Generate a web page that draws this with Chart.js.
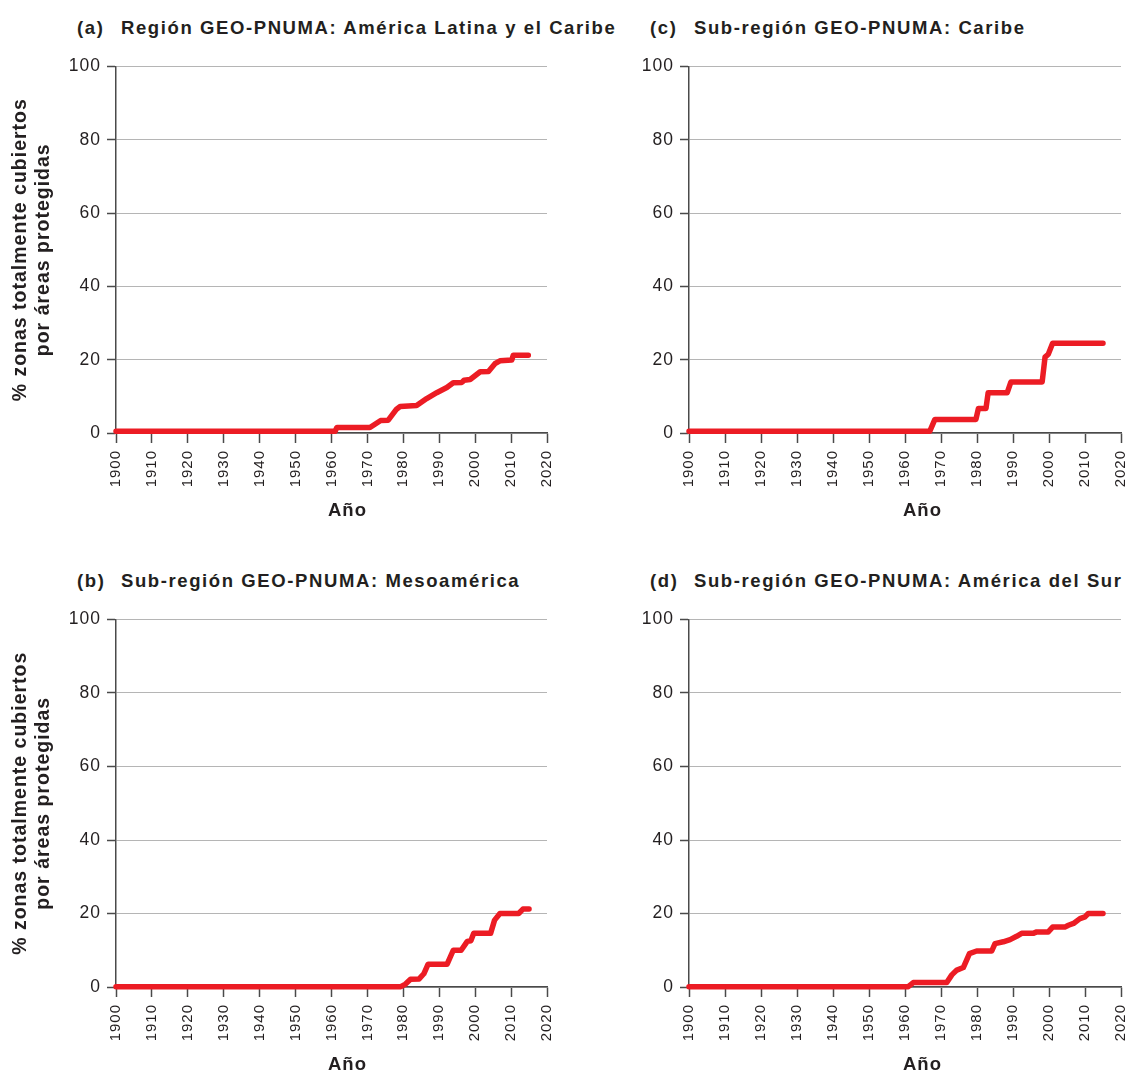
<!DOCTYPE html>
<html lang="es">
<head>
    <meta charset="UTF-8">
    <title>Zonas cubiertas por áreas protegidas</title>
    <script src="https://cdn.jsdelivr.net/npm/chart.js"></script>
    <style>
        body {
            margin: 0;
            width: 1132px;
            height: 1073px;
            overflow: hidden;
            background: #fff;
            font-family: "Liberation Sans", Arial, sans-serif;
            color: #231f20;
        }
        canvas { position: absolute; }

        /* títulos de cada panel */
        .panel-letter, .panel-title {
            position: absolute;
            font-size: 18.5px;
            font-weight: bold;
            letter-spacing: 1.6px;
            line-height: 20px;
            white-space: nowrap;
        }

        /* título del eje x */
        .x-title {
            position: absolute;
            font-size: 18.5px;
            font-weight: bold;
            letter-spacing: 1px;
            line-height: 20px;
        }
    </style>
</head>
<body>
    <div class="panel-letter" style="left:77px; top:18px;">(a)</div>
    <div class="panel-title" style="left:121px; top:18px;">Región GEO-PNUMA: América Latina y el Caribe</div>
    <div class="panel-letter" style="left:650px; top:18px;">(c)</div>
    <div class="panel-title" style="left:694px; top:18px;">Sub-región GEO-PNUMA: Caribe</div>
    <div class="panel-letter" style="left:77px; top:571px;">(b)</div>
    <div class="panel-title" style="left:121px; top:571px;">Sub-región GEO-PNUMA: Mesoamérica</div>
    <div class="panel-letter" style="left:650px; top:571px;">(d)</div>
    <div class="panel-title" style="left:694px; top:571px;">Sub-región GEO-PNUMA: América del Sur</div>

    <canvas id="chartA" width="560" height="480" style="left:0; top:50px;"></canvas>
    <canvas id="chartC" width="552" height="480" style="left:580px; top:50px;"></canvas>
    <canvas id="chartB" width="560" height="470" style="left:0; top:603px;"></canvas>
    <canvas id="chartD" width="552" height="470" style="left:580px; top:603px;"></canvas>

    <div class="x-title" style="left:328px; top:500px;">Año</div>
    <div class="x-title" style="left:903px; top:500px;">Año</div>
    <div class="x-title" style="left:328px; top:1054px;">Año</div>
    <div class="x-title" style="left:903px; top:1054px;">Año</div>

    <script>
        // ticks de los ejes
        const xTickYears = [1900, 1910, 1920, 1930, 1940, 1950, 1960, 1970, 1980, 1990, 2000, 2010, 2020];
        const yTickValues = [0, 20, 40, 60, 80, 100];
        const yTitleLines = ['% zonas totalmente cubiertos', 'por áreas protegidas'];

        // (a) América Latina y el Caribe
        const yearsALC = [1900, 1961, 1961.5, 1970.7, 1972.1, 1973.7, 1975.8, 1978.1, 1979.1, 1983.7, 1986.5, 1989.3,
                          1992.1, 1993.9, 1996.3, 1996.9, 1998.6, 2001.4, 2003.7, 2005.5, 2006.9, 2010.2, 2010.6, 2014.8];
        const valuesALC = [0.5, 0.5, 1.5, 1.5, 2.4, 3.4, 3.5, 6.5, 7.2, 7.5, 9.4, 11.0,
                           12.4, 13.7, 13.8, 14.4, 14.6, 16.7, 16.8, 18.9, 19.7, 19.9, 21.2, 21.2];

        // (b) Mesoamérica
        const yearsMeso = [1900, 1979.3, 1980.6, 1982.0, 1984.4, 1985.7, 1986.9, 1992.2, 1993.9, 1996.1,
                           1997.8, 1998.8, 1999.6, 2004.3, 2005.4, 2006.9, 2012.1, 2013.3, 2015.0];
        const valuesMeso = [0.1, 0.1, 0.8, 2.1, 2.2, 3.6, 6.2, 6.2, 10.0, 10.0,
                            12.4, 12.6, 14.6, 14.6, 18.2, 20.0, 20.0, 21.2, 21.2];

        // (c) Caribe
        const yearsCaribe = [1900, 1966.9, 1968.3, 1979.7, 1980.4, 1982.5, 1983.1, 1988.4, 1989.4, 1998.1, 1998.9, 1999.8, 2001.0, 2015.0];
        const valuesCaribe = [0.5, 0.5, 3.7, 3.7, 6.7, 6.7, 11.0, 11.0, 13.9, 13.9, 20.7, 21.5, 24.5, 24.5];

        // (d) América del Sur
        const yearsSur = [1900, 1960.9, 1962.3, 1971.6, 1973.0, 1974.4, 1976.2, 1977.9, 1979.9, 1984.1, 1985.0, 1987.3, 1989.2,
                          1991.0, 1992.4, 1995.6, 1996.6, 1999.8, 2001.0, 2004.4, 2005.4, 2006.8, 2008.6, 2010.0, 2010.9, 2015.0];
        const valuesSur = [0.1, 0.1, 1.2, 1.2, 3.3, 4.6, 5.3, 9.1, 9.8, 9.8, 11.8, 12.3, 12.9,
                           13.8, 14.6, 14.6, 15.0, 15.0, 16.3, 16.3, 16.8, 17.3, 18.6, 19.1, 20.0, 20.0];

        const RED = '#ec1c24';
        const INK = '#231f20';
        const AXIS = '#4a4a4a';
        const GRID = '#b5b5b5';

        Chart.defaults.font.family = '"Liberation Sans", Arial, sans-serif';
        Chart.defaults.color = INK;

        // el canvas pierde el letterSpacing al redimensionarse, se vuelve a poner
        const letterSpacing = {
            id: 'letterSpacing',
            beforeLayout(chart) { chart.ctx.letterSpacing = '1px'; },
            beforeDraw(chart) { chart.ctx.letterSpacing = '1px'; }
        };

        function makeChart(id, years, values, yAxisWidth, xAxisHeight, padRight, withYTitle) {
            const points = years.map((yr, i) => ({ x: yr, y: values[i] }));
            return new Chart(document.getElementById(id), {
                type: 'line',
                data: {
                    datasets: [{
                        data: points,
                        borderColor: RED,
                        borderWidth: 5.5,
                        borderCapStyle: 'round',
                        borderJoinStyle: 'round',
                        pointRadius: 0,
                        tension: 0,
                        clip: 6
                    }]
                },
                options: {
                    responsive: false,
                    animation: false,
                    layout: { padding: { top: 15, right: padRight, bottom: 0, left: 0 } },
                    plugins: {
                        legend: { display: false },
                        tooltip: { enabled: false }
                    },
                    scales: {
                        x: {
                            type: 'linear',
                            min: 1900,
                            max: 2020,
                            afterBuildTicks: s => { s.ticks = xTickYears.map(v => ({ value: v })); },
                            // alto fijo y sin el margen que reserva la última etiqueta girada
                            afterFit: s => {
                                s.height = xAxisHeight;
                                s.paddingLeft = 0;
                                s.paddingRight = 0;
                            },
                            ticks: {
                                minRotation: 90,
                                maxRotation: 90,
                                padding: 7,
                                font: { size: 15 },
                                color: INK,
                                callback: v => String(v)
                            },
                            grid: {
                                drawOnChartArea: false,
                                drawTicks: true,
                                tickLength: 10,
                                tickColor: AXIS,
                                tickWidth: 1.5
                            },
                            border: { color: AXIS, width: 1.5 }
                        },
                        y: {
                            min: 0,
                            max: 100,
                            afterBuildTicks: s => { s.ticks = yTickValues.map(v => ({ value: v })); },
                            afterFit: s => { s.width = yAxisWidth; },
                            ticks: { padding: 6, font: { size: 17.5 }, color: INK },
                            grid: {
                                color: GRID,
                                lineWidth: 1,
                                tickLength: 9,
                                tickColor: AXIS,
                                tickWidth: 1.5
                            },
                            border: { color: AXIS, width: 1.5 },
                            title: {
                                display: withYTitle,
                                text: yTitleLines,
                                color: INK,
                                font: { size: 19.5, weight: 'bold', lineHeight: 1.18 },
                                padding: { top: 9.5, bottom: 0 }
                            }
                        }
                    }
                },
                plugins: [letterSpacing]
            });
        }

        makeChart('chartA', yearsALC, valuesALC, 116, 97, 13, true);
        makeChart('chartC', yearsCaribe, valuesCaribe, 109, 97, 11, false);
        makeChart('chartB', yearsMeso, valuesMeso, 116, 86, 13, true);
        makeChart('chartD', yearsSur, valuesSur, 109, 86, 11, false);
    </script>
</body>
</html>
